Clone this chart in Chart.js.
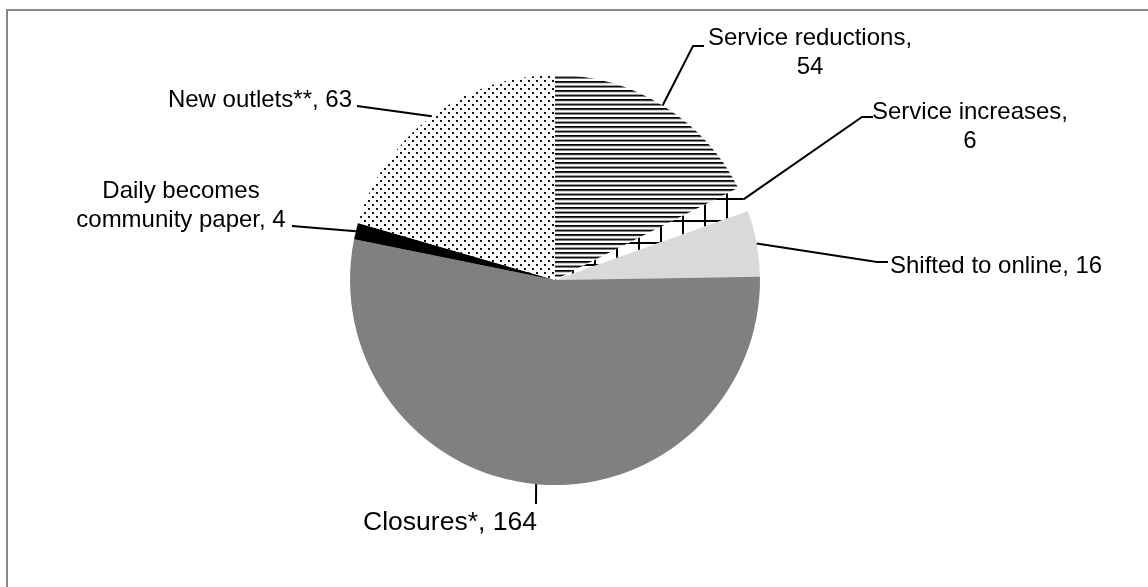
<!DOCTYPE html>
<html>
<head>
<meta charset="utf-8">
<script src="https://cdn.jsdelivr.net/npm/chart.js@4.4.0/dist/chart.umd.min.js"></script>
<style>
html,body{margin:0;padding:0;background:#fff;}
#wrap{position:relative;width:1148px;height:587px;overflow:hidden;}
</style>
</head>
<body>
<div id="wrap"><canvas id="c" width="1148" height="587"></canvas></div>
<script>
// ---- data ----
const categories = ["Service reductions", "Service increases", "Shifted to online", "Closures*", "Daily becomes community paper", "New outlets**"];
const values = [54, 6, 16, 164, 4, 63];
const labelLines = [
  ["Service reductions,", "54"],
  ["Service increases,", "6"],
  ["Shifted to online, 16"],
  ["Closures*, 164"],
  ["Daily becomes", "community paper, 4"],
  ["New outlets**, 63"]
];

// ---- patterns ----
function tile(w, h, draw) {
  const c = document.createElement('canvas');
  c.width = w; c.height = h;
  const g = c.getContext('2d');
  g.fillStyle = '#fff'; g.fillRect(0, 0, w, h);
  draw(g);
  return c;
}
const ctx0 = document.getElementById('c').getContext('2d');
const stripeRows = ['#000', '#3a3a3a', '#d0d0d0', '#fff', '#9a9a9a', '#111', '#808080', '#fff', '#fff'];
const stripes = ctx0.createPattern(tile(4, 9, g => {
  stripeRows.forEach((col, r) => { g.fillStyle = col; g.fillRect(0, r, 4, 1); });
}), 'repeat');
const grid = ctx0.createPattern(tile(22, 22, g => {
  g.fillStyle = '#000';
  g.fillRect(0, 0, 22, 2);
  g.fillRect(0, 0, 2, 22);
}), 'repeat');
const dots = ctx0.createPattern(tile(8, 8, g => {
  g.fillStyle = '#111';
  g.fillRect(0, 0, 2, 2);
  g.fillRect(4, 4, 2, 2);
}), 'repeat');
const fills = [stripes, grid, '#d9d9d9', '#808080', '#000000', dots];

// ---- label layout (positions only) ----
const layout = [
  {elbow:[693,46], end:[704,46], tx:810, ty:45, align:'center', size:24},
  {elbow:[862,117], end:[873,117], tx:970, ty:119, align:'center', size:24},
  {elbow:[877,262], end:[888,262], tx:890, ty:273, align:'left', size:24},
  {elbow:null, end:[536,504], tx:450, ty:530, align:'center', size:26.5},
  {elbow:null, end:[292,226], tx:181, ty:198, align:'center', size:24},
  {elbow:[357,106], end:[357,106], tx:352, ty:107, align:'right', size:24}
];

const framePlugin = {
  id: 'frame',
  beforeDraw(chart) {
    const c = chart.ctx;
    c.save();
    c.fillStyle = '#fff';
    c.fillRect(0, 0, chart.width, chart.height);
    c.strokeStyle = '#888';
    c.lineWidth = 2;
    c.beginPath();
    c.moveTo(7, 700); c.lineTo(7, 10); c.lineTo(1200, 10);
    c.stroke();
    c.restore();
  }
};

const labelPlugin = {
  id: 'pieLabels',
  afterDraw(chart) {
    const c = chart.ctx;
    const meta = chart.getDatasetMeta(0);
    c.save();
    c.strokeStyle = '#000';
    c.lineWidth = 2;
    c.fillStyle = '#000';
    meta.data.forEach((arc, i) => {
      const p = arc.getProps(['x','y','startAngle','endAngle','outerRadius'], true);
      const mid = (p.startAngle + p.endAngle) / 2;
      const sx = p.x + Math.cos(mid) * p.outerRadius;
      const sy = p.y + Math.sin(mid) * p.outerRadius;
      const L = layout[i];
      c.beginPath();
      c.moveTo(sx, sy);
      if (L.elbow) c.lineTo(L.elbow[0], L.elbow[1]);
      c.lineTo(L.end[0], L.end[1]);
      c.stroke();
      c.font = L.size + 'px "Liberation Sans", Arial, sans-serif';
      c.textAlign = L.align;
      c.textBaseline = 'alphabetic';
      labelLines[i].forEach((t, k) => {
        c.fillText(t, L.tx, L.ty + k * 29);
      });
    });
    c.restore();
  }
};

new Chart(document.getElementById('c'), {
  type: 'pie',
  data: {
    labels: categories,
    datasets: [{
      data: values,
      backgroundColor: fills,
      borderWidth: 0
    }]
  },
  options: {
    responsive: false,
    animation: false,
    layout: { padding: { left: 350, right: 388, top: 75, bottom: 102 } },
    plugins: { legend: { display: false }, tooltip: { enabled: false } }
  },
  plugins: [framePlugin, labelPlugin]
});
</script>
</body>
</html>
